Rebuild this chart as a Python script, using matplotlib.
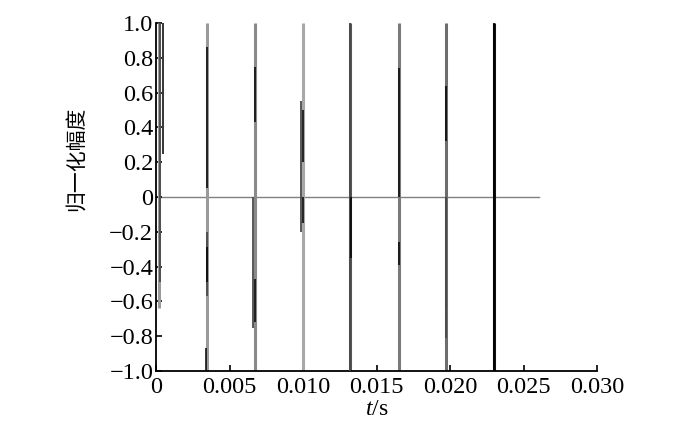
import matplotlib
matplotlib.use("Agg")
import matplotlib.pyplot as plt

# ---- data ----
# zero baseline
baseline_t = [0.0, 0.02605]
baseline_y = [0.0, 0.0]

# pulse times (s) and the colour of the full-height swing at each pulse
pulse_t = [0.00022, 0.00345, 0.00672, 0.00997, 0.01323, 0.01650, 0.01975, 0.02298]
pulse_full_lo = [-0.64, -1.0, -1.0, -1.0, -1.0, -1.0, -1.0, -1.0]
pulse_full_hi = [1.0, 1.0, 1.0, 1.0, 1.0, 1.0, 1.0, 1.0]
pulse_colors = ["#9a9a9a", "#9a9a9a", "#8a8a8a", "#a8a8a8", "#555555", "#7a7a7a", "#6e6e6e", "#111111"]

# dark-grey partial swings (t, low, high)
mid_t = [0.00030, 0.00345, 0.00985, 0.01323, 0.01975, 0.01970, 0.00662]
mid_lo = [-0.49, -0.57, -0.20, -1.0, -0.81, -0.64, -0.75]
mid_hi = [1.0, -0.20, 0.55, 1.0, 0.0, 0.0, 0.0]

# black partial swings (t, low, high)
black_t = [0.00045, 0.00348, 0.00348, 0.00340, 0.00675, 0.00675,
           0.01000, 0.01000, 0.01325, 0.01652, 0.01652, 0.01975, 0.02298]
black_lo = [0.25, 0.05, -0.49, -1.0, 0.43, -0.72,
            0.20, -0.15, -0.35, 0.0, -0.39, 0.32, -1.0]
black_hi = [1.0, 0.86, -0.29, -0.87, 0.75, -0.47,
            0.50, 0.0, 0.0, 0.74, -0.26, 0.64, 1.0]

x_ticks = [0.0, 0.005, 0.010, 0.015, 0.020, 0.025, 0.030]
x_labels = ["0", "0.005", "0.010", "0.015", "0.020", "0.025", "0.030"]
y_ticks = [-1.0, -0.8, -0.6, -0.4, -0.2, 0.0, 0.2, 0.4, 0.6, 0.8, 1.0]
y_labels = ["\u22121.0", "\u22120.8", "\u22120.6", "\u22120.4", "\u22120.2", "0",
            "0.2", "0.4", "0.6", "0.8", "1.0"]

# ---- figure ----
plt.rcParams["font.family"] = ["Liberation Serif", "DejaVu Serif"]
plt.rcParams["mathtext.fontset"] = "custom"
plt.rcParams["mathtext.it"] = "Liberation Serif:italic"
plt.rcParams["mathtext.rm"] = "Liberation Serif"

fig = plt.figure(figsize=(7.0, 4.37), dpi=100)
ax = fig.add_axes([156 / 700, 1 - 371 / 437, 441 / 700, 348 / 437])

ax.plot(baseline_t, baseline_y, color="#808080", lw=1.0, zorder=1)
ax.vlines(pulse_t, pulse_full_lo, pulse_full_hi, colors=pulse_colors, lw=2.2, zorder=2)
ax.vlines(mid_t, mid_lo, mid_hi, colors="#4a4a4a", lw=1.3, zorder=3)
ax.vlines(black_t, black_lo, black_hi, colors="#000000", lw=1.1, zorder=4)

ax.set_xlim(0, 0.030)
ax.set_ylim(-1.0, 1.0)
ax.set_xticks(x_ticks)
ax.set_xticklabels(x_labels)
ax.set_yticks(y_ticks)
ax.set_yticklabels(y_labels)

for s in ["top", "right"]:
    ax.spines[s].set_visible(False)
for s in ["left", "bottom"]:
    ax.spines[s].set_linewidth(1.3)
ax.tick_params(direction="in", length=4, width=1.2, labelsize=17.5, pad=2)
ax.tick_params(axis="x", pad=4)

ax.set_xlabel("$t$/s", fontsize=17)
ax.xaxis.set_label_coords(0.5, -0.08)
ax.set_ylabel("归一化幅度", fontsize=15, family=["Noto Sans CJK SC", "DejaVu Sans"])
ax.yaxis.set_label_coords(-0.155, 0.61)

fig.savefig("out.png", dpi=100)
